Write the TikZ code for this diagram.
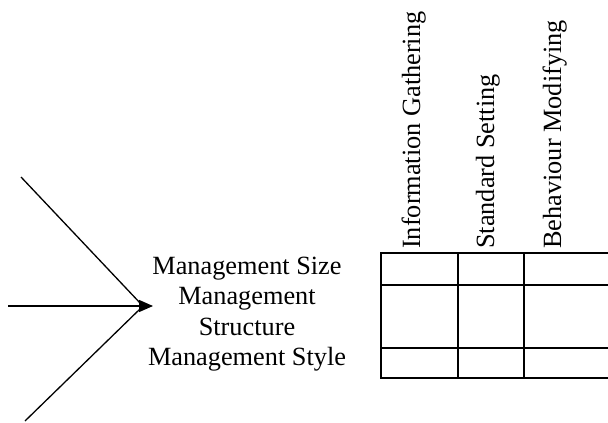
\documentclass[tikz,border=0pt]{standalone}
\usepackage{fontspec}
\setmainfont{Liberation Serif}
\usetikzlibrary{arrows.meta}
\begin{document}
\begin{tikzpicture}[x=1pt,y=-1pt,
  lbl/.style={font=\fontsize{26.3}{30.5}\selectfont, inner sep=0pt},
  vlbl/.style={lbl, rotate=90, anchor=base west},
  grid/.style={line width=1.6pt},
  ray/.style={line width=1.3pt}]
\useasboundingbox (0,0) rectangle (608,423);
\clip (0,0) rectangle (608,423);
% rays
\coordinate (a1) at (21,177);
\coordinate (a2) at (8,306);
\coordinate (a3) at (25,421);
\coordinate (j1) at (141,304);
\coordinate (j3) at (141,308);
\coordinate (tip) at (153,306);
\draw[ray] (a1) -- (j1);
\draw[ray] (a3) -- (j3);
\draw[ray,-{Triangle[length=14pt,width=12pt]}] (a2) -- (tip);
% text
\node[lbl, align=center] (mgmt) at (247,314) {Management Size\\Management\\Structure\\Management Style};
% table
\coordinate (t0) at (381,253);
\coordinate (t1) at (614,378);
\draw[grid] (t0) rectangle (t1);
\draw[grid] (381,285) -- (614,285);
\draw[grid] (381,348) -- (614,348);
\draw[grid] (458,253) -- (458,378);
\draw[grid] (524,253) -- (524,378);
% column headers
\node[vlbl] (ig) at (420,249) {Information Gathering};
\node[vlbl] (ss) at (494,249) {Standard Setting};
\node[vlbl] (bm) at (561,249) {Behaviour Modifying};
\end{tikzpicture}
\end{document}
